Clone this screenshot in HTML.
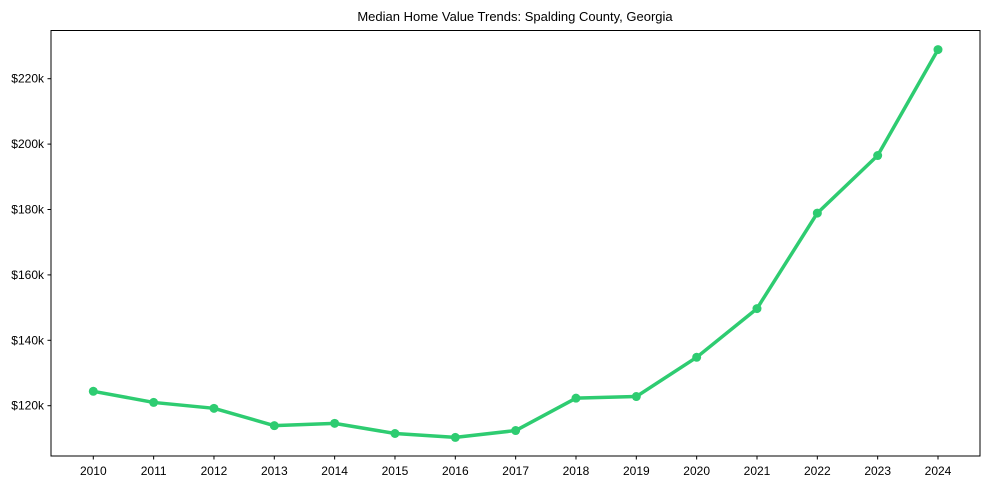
<!DOCTYPE html>
<html><head><meta charset="utf-8"><style>
body{margin:0;background:#fff;font-family:"Liberation Sans",Arial,sans-serif;}
svg text{font-family:"Liberation Sans",Arial,sans-serif;font-size:12px;fill:#000;}
</style></head><body>
<svg id="chart" width="989" height="490" xmlns="http://www.w3.org/2000/svg">
<text x="515" y="21" text-anchor="middle" style="font-size:13px">Median Home Value Trends: Spalding County, Georgia</text>
<g id="axes"></g>
<g id="marks"></g>
<rect x="51" y="30.5" width="929" height="425.5" fill="none" stroke="#000" stroke-width="1"/>
</svg>
<script>
const years = [2010,2011,2012,2013,2014,2015,2016,2017,2018,2019,2020,2021,2022,2023,2024];
const values = [124.4,121.0,119.2,113.9,114.6,111.5,110.3,112.4,122.3,122.8,134.8,149.7,178.9,196.5,228.9];
const yTicks = [120,140,160,180,200,220];
const yTickLabels = ["$120k","$140k","$160k","$180k","$200k","$220k"];
const ns="http://www.w3.org/2000/svg";
function x(i){return 93.3+i*(938-93.3)/14;}
function y(v){return 405.7-(v-120)*3.27;}
const axes=document.getElementById('axes'), marks=document.getElementById('marks');
function mk(t,a,p){const e=document.createElementNS(ns,t);for(const k in a)e.setAttribute(k,a[k]);p.appendChild(e);return e;}
yTicks.forEach((v,i)=>{
 const t=mk('line',{x1:47.5,x2:51,y1:y(v),y2:y(v),stroke:'#000'},axes);
 
 
 const l=mk('text',{x:44,y:y(v)+4,'text-anchor':'end'},axes);
 
 
 l.textContent=yTickLabels[i];
});
years.forEach((yr,i)=>{
 const t=mk('line',{x1:x(i),x2:x(i),y1:456,y2:459.5,stroke:'#000'},axes);
 
 
 const l=mk('text',{x:x(i),y:475,'text-anchor':'middle'},axes);
 
 
 l.textContent=yr;
});
const pl=mk('polyline',{points:values.map((v,i)=>x(i)+','+y(v)).join(' '),fill:'none',stroke:'#2ecc71','stroke-width':3.5,'stroke-linejoin':'round'},marks);


values.forEach((v,i)=>{
 const c=mk('circle',{cx:x(i),cy:y(v),r:4.5,fill:'#2ecc71'},marks);
 
 
});
</script>
</body></html>
